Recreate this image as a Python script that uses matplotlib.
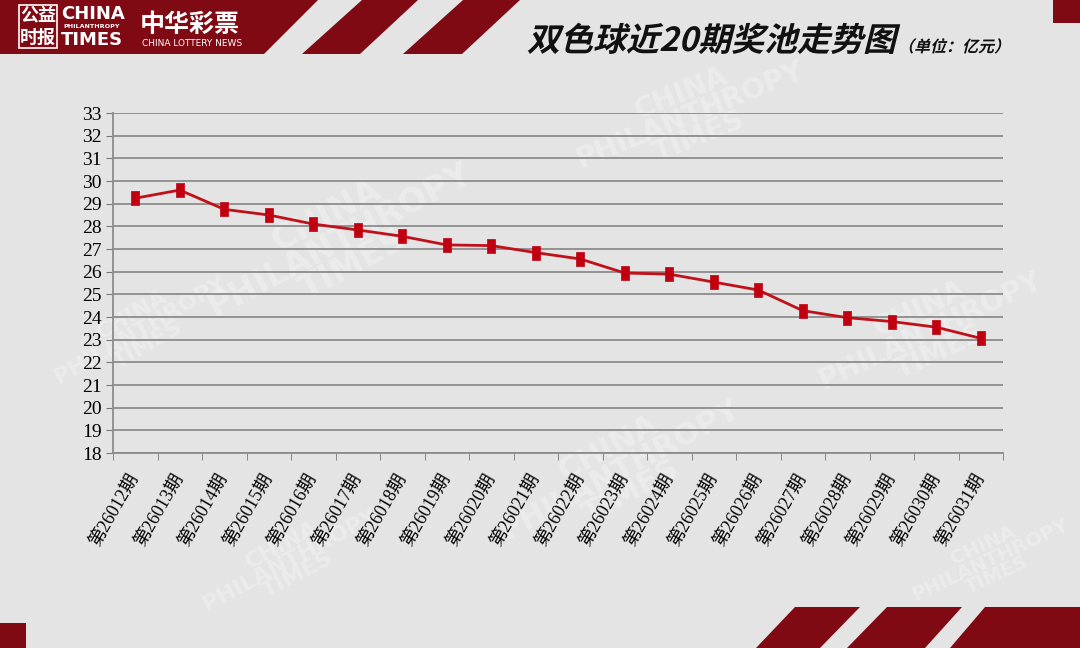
import numpy as np
import matplotlib
matplotlib.use("Agg")
import matplotlib.pyplot as plt
from matplotlib.patches import Polygon, PathPatch, Rectangle
from matplotlib.textpath import TextPath
from matplotlib.font_manager import FontProperties
from matplotlib.transforms import Affine2D

plt.rcParams['font.family'] = ['Liberation Serif', 'Noto Sans CJK SC', 'DejaVu Sans']

# dati: jackpot ultimi 20 concorsi (unità: 100 milioni)
periods = ['第26012期', '第26013期', '第26014期', '第26015期', '第26016期',
           '第26017期', '第26018期', '第26019期', '第26020期', '第26021期',
           '第26022期', '第26023期', '第26024期', '第26025期', '第26026期',
           '第26027期', '第26028期', '第26029期', '第26030期', '第26031期']
pool = [29.24, 29.60, 28.75, 28.50, 28.10, 27.84, 27.56, 27.18, 27.15, 26.84,
        26.56, 25.94, 25.89, 25.54, 25.19, 24.28, 23.97, 23.80, 23.55, 23.06]
y_ticks = list(range(18, 34))

title = '双色球近20期奖池走势图'
unit = '（单位：亿元）'

RED = '#800a14'
BG = '#e4e4e4'
W, H = 1080, 648

fig = plt.figure(figsize=(10.8, 6.48), dpi=100, facecolor=BG)

# overlay in pixel coords per decorazioni
deco = fig.add_axes([0, 0, 1, 1], zorder=0)
deco.set_xlim(0, W)
deco.set_ylim(H, 0)
deco.axis('off')

# watermark tenui
for (x, y, rot, fs) in [(340, 240, 28, 24), (690, 115, 22, 20), (930, 330, 25, 20),
                        (620, 470, 28, 22), (140, 330, 30, 16), (290, 560, 28, 16),
                        (990, 560, 25, 14)]:
    deco.text(x, y, 'CHINA\nPHILANTHROPY\nTIMES', color='white', alpha=0.28,
              fontsize=fs, fontweight='bold', rotation=rot, ha='center', va='center',
              family='DejaVu Sans', linespacing=0.8)

# testata rossa
deco.add_patch(Polygon([(0, 0), (318, 0), (264, 54), (0, 54)], closed=True, color=RED, lw=0))
deco.add_patch(Polygon([(362, 0), (418, 0), (360, 54), (302, 54)], closed=True, color=RED, lw=0))
deco.add_patch(Polygon([(463, 0), (520, 0), (462, 54), (403, 54)], closed=True, color=RED, lw=0))
deco.add_patch(Rectangle((1053, 0), 27, 23, color=RED, lw=0))
# piede
deco.add_patch(Rectangle((0, 623), 26, 25, color=RED, lw=0))
deco.add_patch(Polygon([(795, 607), (860, 607), (820, 648), (756, 648)], closed=True, color=RED, lw=0))
deco.add_patch(Polygon([(887, 607), (962, 607), (925, 648), (847, 648)], closed=True, color=RED, lw=0))
deco.add_patch(Polygon([(985, 607), (1080, 607), (1080, 648), (950, 648)], closed=True, color=RED, lw=0))

# loghi
cjk = ['Noto Sans CJK SC', 'DejaVu Sans']
deco.add_patch(Rectangle((19, 5), 38, 43, fill=False, ec='white', lw=1.2))
deco.text(38, 15, '公益', color='white', fontsize=13, fontweight='bold', ha='center', va='center', family=cjk)
deco.text(38, 37, '时报', color='white', fontsize=13, fontweight='bold', ha='center', va='center', family=cjk)
deco.text(61, 14, 'CHINA', color='white', fontsize=13, fontweight='heavy', ha='left', va='center', family='DejaVu Sans')
deco.text(63, 27, 'PHILANTHROPY', color='white', fontsize=4.6, fontweight='bold', ha='left', va='center', family='DejaVu Sans')
deco.text(61, 40, 'TIMES', color='white', fontsize=13, fontweight='heavy', ha='left', va='center', family='DejaVu Sans')
deco.text(140, 25, '中华彩票', color='white', fontsize=18, fontweight='bold', ha='left', va='center', family=cjk)
deco.text(142, 44, 'CHINA LOTTERY NEWS', color='white', fontsize=6.5, ha='left', va='center', family='DejaVu Sans')


def slanted(s, x, y, size, weight='heavy'):
    fp = FontProperties(family='Noto Sans CJK SC', weight=weight)
    tp = TextPath((0, 0), s, prop=fp, size=size)
    tr = Affine2D().skew_deg(14, 0).scale(1, -1).translate(x, y)
    deco.add_patch(PathPatch(tr.transform_path(tp), color='#111111', lw=0))


slanted(title, 527, 51, 33)
slanted(unit, 898, 52, 16, weight='bold')

# grafico
ax = fig.add_axes([113 / W, 1 - 453 / H, 890 / W, 340 / H], zorder=1)
ax.patch.set_alpha(0)
x = np.arange(len(periods))
ax.plot(x, pool, color='#c0101a', lw=2,
        marker=[(-0.3, -0.5), (0.3, -0.5), (0.3, 0.5), (-0.3, 0.5), (-0.3, -0.5)],
        ms=10, mfc='#c00010', mec='#c00010', mew=0.5, zorder=3)

ax.set_ylim(18, 33)
ax.set_yticks(y_ticks)
ax.set_yticklabels([str(v) for v in y_ticks], fontsize=14)
ax.set_xlim(-0.5, len(periods) - 0.5)
ax.set_xticks(x)
ax.set_xticklabels(periods, rotation=60, ha='right', va='center', rotation_mode='anchor',
                   fontsize=13, family=['Liberation Serif', 'Noto Sans CJK SC'])
ax.set_xticks(np.arange(-0.5, len(periods)), minor=True)
ax.tick_params(axis='x', which='major', length=0, pad=16)
ax.tick_params(axis='x', which='minor', length=5, color='#777777')
ax.tick_params(axis='y', length=5, color='#777777', pad=3)
ax.grid(axis='y', color='#8c8c8c', lw=1.3)
ax.set_axisbelow(True)
for side in ['top', 'right']:
    ax.spines[side].set_visible(False)
for side in ['left', 'bottom']:
    ax.spines[side].set_color('#8c8c8c')
    ax.spines[side].set_linewidth(1.3)

fig.savefig('out.png', dpi=100, facecolor=BG)
